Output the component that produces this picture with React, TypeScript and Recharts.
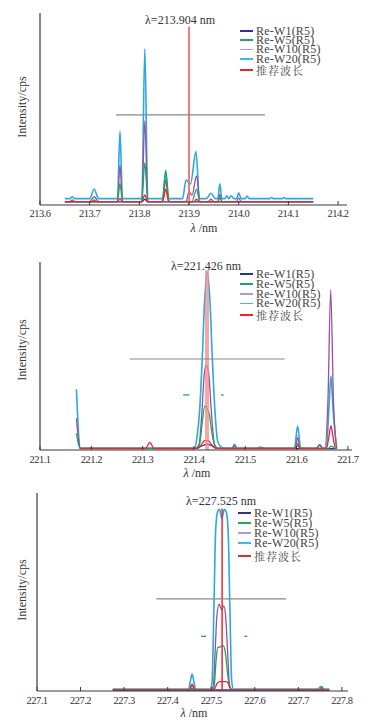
import React from "react";
import { LineChart, Line, XAxis, YAxis, ReferenceLine } from "recharts";

type Pt = [number, number];

const SERIES = ["Re-W1(R5)", "Re-W5(R5)", "Re-W10(R5)", "Re-W20(R5)", "推荐波长"];
const COLORS = ["#2e3192", "#22a45d", "#9b4f9e", "#29aae1", "#e8262c"];
const LEGEND_COLORS = ["#2e3192", "#22a45d", "#a99bd6", "#3bb8ec", "#e8262c"];

// ---- panel 1 : 213.904 nm ----
const TICKS_1 = [213.6, 213.7, 213.8, 213.9, 214.0, 214.1, 214.2];
const W1_1: Pt[] = [[213.65, 1.6], [213.805, 1.6], [213.811, 3], [213.817, 1.6], [214.15, 1.6]];
const W5_1: Pt[] = [
  [213.65, 1.8], [213.704, 1.8], [213.709, 2.6], [213.714, 1.8], [213.756, 1.8], [213.761, 11.3],
  [213.766, 1.8], [213.805, 1.8], [213.811, 22], [213.817, 1.8], [213.846, 1.8], [213.853, 18.2],
  [213.86, 1.8], [213.906, 1.8], [213.915, 8.2], [213.922, 1.8], [213.958, 1.8], [213.962, 4],
  [213.966, 1.8], [214.15, 1.8],
];
const W10_1: Pt[] = [
  [213.65, 1.8], [213.66, 1.8], [213.665, 2.6], [213.67, 1.8], [213.7, 1.8], [213.709, 4.3],
  [213.718, 1.8], [213.756, 1.8], [213.761, 20.8], [213.766, 1.8], [213.805, 1.8], [213.811, 43.9],
  [213.817, 1.8], [213.847, 1.8], [213.853, 13], [213.859, 1.8], [213.894, 1.8], [213.9, 6.9],
  [213.906, 5], [213.915, 15.1], [213.922, 1.8], [213.938, 1.8], [213.944, 3], [213.95, 1.8],
  [213.958, 1.8], [213.962, 5.5], [213.966, 1.8], [213.995, 1.8], [214.0, 3.6], [214.005, 1.8],
  [214.15, 1.8],
];
const W20_1: Pt[] = [
  [213.65, 3.3], [213.66, 3.3], [213.665, 4.3], [213.67, 3.3], [213.7, 3.3], [213.709, 8.2],
  [213.718, 3.3], [213.756, 3.3], [213.761, 38.5], [213.766, 3.3], [213.805, 3.3], [213.811, 81.3],
  [213.817, 3.3], [213.847, 3.3], [213.853, 16.5], [213.859, 3.3], [213.887, 3.3], [213.894, 13],
  [213.903, 11], [213.914, 27.8], [213.921, 3.3], [213.935, 3.3], [213.944, 6.1], [213.953, 3.3],
  [213.958, 3.3], [213.962, 11], [213.966, 3.3], [213.972, 3.3], [213.976, 4.8], [213.98, 3.3],
  [213.985, 4.8], [213.99, 3.3], [213.996, 3.3], [214.0, 6.4], [214.005, 3.3], [214.013, 3.3],
  [214.017, 4.7], [214.021, 3.3], [214.062, 3.3], [214.066, 3.9], [214.07, 3.3], [214.087, 3.3],
  [214.091, 3.9], [214.095, 3.3], [214.15, 3.3],
];
const REC_1: Pt[] = [
  [213.65, 1.8], [213.756, 1.8], [213.761, 3.5], [213.766, 1.8], [213.805, 1.8], [213.811, 5.2],
  [213.817, 1.8], [213.847, 1.8], [213.853, 8.2], [213.859, 1.8], [213.91, 1.8], [213.915, 3],
  [213.92, 1.8], [214.15, 1.8],
];

// ---- panel 2 : 221.426 nm ----
const TICKS_2 = [221.1, 221.2, 221.3, 221.4, 221.5, 221.6, 221.7];
const W1_2: Pt[] = [[221.178, 0.7], [221.4, 0.7], [221.426, 3], [221.45, 0.7], [221.678, 0.7]];
const W5_2: Pt[] = [
  [221.171, 8.9], [221.175, 3], [221.178, 0.9], [221.405, 0.9], [221.411, 3], [221.416, 14],
  [221.421, 23.4], [221.426, 22], [221.43, 19], [221.435, 9], [221.441, 2], [221.447, 0.9],
  [221.597, 0.9], [221.602, 3.5], [221.607, 0.9], [221.662, 0.9], [221.668, 2.1], [221.674, 0.9],
  [221.678, 0.9],
];
const W10_2: Pt[] = [
  [221.171, 16.8], [221.174, 8], [221.178, 0.9], [221.404, 0.9], [221.41, 3], [221.415, 18],
  [221.42, 40], [221.424, 45.2], [221.429, 40], [221.434, 20], [221.44, 3], [221.446, 0.9],
  [221.475, 0.9], [221.479, 2], [221.483, 0.9], [221.597, 0.9], [221.602, 6.7], [221.607, 0.9],
  [221.638, 0.9], [221.645, 2.8], [221.652, 0.9], [221.655, 0.9], [221.661, 25], [221.6665, 85.1],
  [221.672, 25], [221.678, 0.9],
];
const W20_2: Pt[] = [
  [221.171, 32.3], [221.173, 20], [221.176, 5], [221.178, 0.9], [221.401, 0.9], [221.406, 6.8],
  [221.411, 20.6], [221.416, 47.6], [221.421, 80.3], [221.426, 94.3], [221.431, 80.3],
  [221.436, 47.6], [221.441, 20.6], [221.446, 5], [221.452, 1.8], [221.458, 0.9], [221.474, 0.9],
  [221.479, 3], [221.484, 0.9], [221.522, 0.9], [221.53, 1.6], [221.538, 0.9], [221.596, 0.9],
  [221.602, 12.8], [221.608, 0.9], [221.64, 0.9], [221.645, 2.8], [221.65, 0.9], [221.658, 0.9],
  [221.663, 22], [221.667, 39.4], [221.671, 22], [221.678, 0.9],
];
const REC_2: Pt[] = [
  [221.178, 0.9], [221.306, 0.9], [221.314, 4.1], [221.322, 0.9], [221.408, 0.9], [221.415, 3],
  [221.421, 5], [221.428, 5], [221.434, 3], [221.442, 0.9], [221.597, 0.9], [221.602, 2.5],
  [221.607, 0.9], [221.658, 0.9], [221.663, 7], [221.667, 12.9], [221.671, 7], [221.676, 0.9],
  [221.678, 0.9],
];

// ---- panel 3 : 227.525 nm ----
const TICKS_3 = [227.1, 227.2, 227.3, 227.4, 227.5, 227.6, 227.7, 227.8];
const W1_3: Pt[] = [[227.274, 0.5], [227.771, 0.5]];
const W5_3: Pt[] = [
  [227.274, 0.5], [227.45, 0.5], [227.456, 1.5], [227.462, 0.5], [227.502, 0.5], [227.507, 3],
  [227.511, 15], [227.515, 22], [227.521, 22.3], [227.527, 22.9], [227.532, 20], [227.537, 10],
  [227.542, 2], [227.548, 0.5], [227.748, 0.5], [227.754, 2.2], [227.76, 0.5], [227.771, 0.5],
];
const W10_3: Pt[] = [
  [227.274, 0.5], [227.45, 0.5], [227.456, 3.5], [227.462, 0.5], [227.5, 0.5], [227.505, 3],
  [227.509, 20], [227.513, 38], [227.518, 43.9], [227.524, 41], [227.529, 43], [227.533, 38],
  [227.538, 18], [227.542, 3], [227.548, 0.5], [227.749, 0.5], [227.754, 1.5], [227.759, 0.5],
  [227.771, 0.5],
];
const W20_3: Pt[] = [
  [227.274, 1.0], [227.448, 1.0], [227.452, 5], [227.456, 8.6], [227.46, 5], [227.464, 1.0],
  [227.498, 1.0], [227.502, 5], [227.506, 40], [227.51, 80], [227.514, 90], [227.519, 91.8],
  [227.5245, 87], [227.53, 91.8], [227.535, 90], [227.539, 80], [227.543, 40], [227.547, 5],
  [227.551, 1.0], [227.745, 1.0], [227.751, 2.2], [227.757, 1.0], [227.771, 1.0],
];
const REC_3: Pt[] = [
  [227.274, 0.5], [227.45, 0.5], [227.456, 3.5], [227.462, 0.5], [227.5, 0.5], [227.507, 1],
  [227.514, 4], [227.519, 4.7], [227.534, 4.7], [227.539, 4], [227.545, 1], [227.552, 0.5],
  [227.771, 0.5],
];

const FONT = '"Liberation Serif", "DejaVu Serif", serif';
const CJK = '"Noto Serif CJK SC", "Noto Sans CJK SC", serif';
const pts = (a: Pt[]) => a.map(([x, y]) => ({ x, y }));

const AxisTick = (props: any) => {
  const { x, y, payload, dy } = props;
  return (
    <g>
      <line x1={x} x2={x} y1={y} y2={y - 4} stroke="#3a3a3a" strokeWidth={1} />
      <text x={x} y={y + dy} textAnchor="middle" fontSize={10.5} fontFamily={FONT} fill="#333" letterSpacing={-0.5}>
        {Number(payload.value).toFixed(1)}
      </text>
    </g>
  );
};

interface PanelProps {
  top: number;
  height: number;
  margin: { top: number; right: number; bottom: number };
  yWidth: number;
  domain: [number, number];
  ticks: number[];
  tickDy: number;
  series: Pt[][];
  marker: { x: number; top: number; color: string; width: number; opacity: number };
  gray: [number, number, number];
  dashes: [number, number, number][];
}

function Panel(p: PanelProps) {
  return (
    <div style={{ position: "absolute", left: 0, top: p.top }}>
      <LineChart width={375} height={p.height} margin={{ ...p.margin, left: 0 }}>
        <XAxis
          type="number"
          dataKey="x"
          domain={p.domain}
          ticks={p.ticks}
          allowDataOverflow
          tickSize={0}
          tickMargin={0}
          tickLine={false}
          height={20}
          axisLine={{ stroke: "#3a3a3a", strokeWidth: 1.2 }}
          tick={<AxisTick dy={p.tickDy} />}
        />
        <YAxis
          type="number"
          domain={[0, 100]}
          width={p.yWidth}
          tick={false}
          tickLine={false}
          axisLine={{ stroke: "#3a3a3a", strokeWidth: 1.2 }}
        />
        {[0, 3, 2, 1, 4].map((i) => (
          <Line
            key={i}
            data={pts(p.series[i])}
            dataKey="y"
            type="monotone"
            stroke={COLORS[i]}
            strokeWidth={i === 3 ? 1.6 : 1.3}
            dot={false}
            isAnimationActive={false}
          />
        ))}
        <ReferenceLine
          segment={[{ x: p.marker.x, y: 0 }, { x: p.marker.x, y: p.marker.top }]}
          stroke={p.marker.color}
          strokeWidth={p.marker.width}
          strokeOpacity={p.marker.opacity}
        />
        <ReferenceLine
          segment={[{ x: p.gray[0], y: p.gray[2] }, { x: p.gray[1], y: p.gray[2] }]}
          stroke="#8a8a8a"
          strokeWidth={1.2}
        />
        {p.dashes.map((d, i) => (
          <ReferenceLine key={i} segment={[{ x: d[0], y: d[2] }, { x: d[1], y: d[2] }]} stroke="#22a45d" strokeWidth={1.3} />
        ))}
      </LineChart>
    </div>
  );
}

const Txt = ({ x, y, children, size = 12, rotate = 0 }: any) => (
  <div
    style={{
      position: "absolute",
      left: x,
      top: y,
      transform: `translate(-50%, -50%) rotate(${rotate}deg)`,
      fontFamily: FONT,
      fontSize: size,
      color: "#333",
      whiteSpace: "nowrap",
      lineHeight: 1,
    }}
  >
    {children}
  </div>
);

const Legend = ({ x, rows }: { x: number; rows: number[] }) => (
  <>
    {SERIES.map((s, i) => (
      <div
        key={s}
        style={{ position: "absolute", left: x, top: rows[i] - 4.5, height: 9, display: "flex", alignItems: "center" }}
      >
        <div style={{ width: 13, height: 1.5, background: LEGEND_COLORS[i], marginRight: 3 }} />
        <span
          style={{
            fontFamily: i === 4 ? CJK : FONT,
            fontSize: i === 4 ? 11 : 12,
            color: "#444",
            letterSpacing: i === 4 ? 1 : 0.2,
            lineHeight: "9px",
          }}
        >
          {s}
        </span>
      </div>
    ))}
  </>
);

const XLabel = ({ x, y }: { x: number; y: number }) => (
  <Txt x={x} y={y}>
    <i>λ</i> /nm
  </Txt>
);

export default function App() {
  return (
    <div style={{ position: "absolute", left: 0, top: 0, width: 375, height: 727, background: "#fff", overflow: "hidden" }}>
      <Panel
        top={0}
        height={232}
        margin={{ top: 13, right: 28, bottom: 7 }}
        yWidth={40}
        domain={[213.6, 214.218]}
        ticks={TICKS_1}
        tickDy={12}
        series={[W1_1, W5_1, W10_1, W20_1, REC_1]}
        marker={{ x: 213.9, top: 92.9, color: "#f06a6a", width: 2, opacity: 0.9 }}
        gray={[213.753, 214.053, 46.9]}
        dashes={[]}
      />
      <Panel
        top={232}
        height={240}
        margin={{ top: 30, right: 23, bottom: 2 }}
        yWidth={40}
        domain={[221.1, 221.708]}
        ticks={TICKS_2}
        tickDy={13}
        series={[W1_2, W5_2, W10_2, W20_2, REC_2]}
        marker={{ x: 221.4255, top: 95.7, color: "#f28a8a", width: 4, opacity: 0.75 }}
        gray={[221.275, 221.577, 48.4]}
        dashes={[[221.379, 221.391, 29.3], [221.453, 221.458, 29.3]]}
      />
      <Panel
        top={480}
        height={247}
        margin={{ top: 13, right: 27, bottom: 16 }}
        yWidth={37}
        domain={[227.1, 227.814]}
        ticks={TICKS_3}
        tickDy={13}
        series={[W1_3, W5_3, W10_3, W20_3, REC_3]}
        marker={{ x: 227.525, top: 92.2, color: "#ee2a2f", width: 1.5, opacity: 1 }}
        gray={[227.374, 227.672, 46.5]}
        dashes={[[227.477, 227.488, 27.6], [227.576, 227.583, 27.6]]}
      />

      <Txt x={180} y={20}>λ=213.904 nm</Txt>
      <Txt x={206} y={266}>λ=221.426 nm</Txt>
      <Txt x={221} y={501}>λ=227.525 nm</Txt>

      <Legend x={240} rows={[31, 40, 49.5, 59, 70]} />
      <Legend x={240} rows={[274, 284, 294, 303.5, 315]} />
      <Legend x={238} rows={[513, 523, 533, 543, 556]} />

      <Txt x={22} y={107} rotate={-90}>Intensity/cps</Txt>
      <Txt x={22} y={350} rotate={-90}>Intensity/cps</Txt>
      <Txt x={22} y={590} rotate={-90}>Intensity/cps</Txt>

      <XLabel x={204} y={228} />
      <XLabel x={197} y={473} />
      <XLabel x={194} y={713} />
    </div>
  );
}
